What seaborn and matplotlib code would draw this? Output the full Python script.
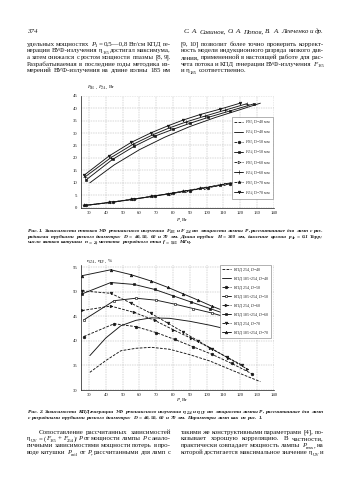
import re
import matplotlib
matplotlib.use("Agg")
import matplotlib.pyplot as plt
import seaborn as sns

# ---------------- data: Fig. 1 (fluxes, W) ----------------
P_d70 = [27, 42, 55, 67, 77, 86, 96, 108, 120]
F254_d70 = [13.0, 20.8, 26.2, 30.1, 32.9, 35.2, 37.4, 39.6, 42.0]
F185_d70 = [0.9, 2.1, 3.3, 4.5, 5.6, 6.6, 7.8, 9.2, 10.7]

P_d60 = [27.5, 43, 56, 68, 78, 88, 99, 111, 124]
F254_d60 = [12.3, 20.1, 25.4, 29.3, 32.1, 34.5, 36.8, 39.2, 41.8]
F185_d60 = [0.9, 2.2, 3.4, 4.6, 5.7, 6.8, 8.0, 9.4, 11.0]

P_d50 = [28.5, 44, 57, 69, 80, 90, 101, 114, 128]
F254_d50 = [11.3, 19.4, 24.7, 28.7, 31.5, 33.9, 36.3, 38.9, 41.7]
F185_d50 = [1.0, 2.2, 3.4, 4.7, 5.8, 6.9, 8.1, 9.7, 11.5]

P_d40 = [30.5, 45, 60, 75, 90, 105, 120, 132]
F254_d40 = [10.0, 17.2, 23.3, 28.3, 32.6, 36.2, 39.4, 42.0]
F185_d40 = [1.1, 2.3, 3.8, 5.3, 6.9, 8.6, 10.4, 12.2]

# ---------------- data: Fig. 2 (efficiency, %) ----------------
Pk_d70 = [26, 43, 55, 67, 77, 86, 95, 103, 112, 121]
UV_d70 = [53.3, 54.5, 53.5, 52.2, 50.9, 49.6, 48.3, 47.1, 45.9, 44.5]
K254_d70 = [50.2, 49.7, 47.7, 45.6, 43.6, 41.8, 40.0, 38.4, 36.7, 35.1]

Pk_d60 = [26, 43, 57, 69, 80, 91, 102, 113, 124]
UV_d60 = [49.6, 51.9, 51.5, 50.5, 49.2, 47.9, 46.6, 45.3, 44.0]
K254_d60 = [46.2, 47.1, 45.8, 44.2, 42.3, 40.5, 38.6, 36.5, 34.3]

Pk_d50 = [27, 45, 58, 70, 81, 92, 103, 115, 127]
UV_d50 = [44.3, 48.2, 48.7, 48.3, 47.5, 46.6, 45.7, 44.5, 43.0]
K254_d50 = [40.9, 43.5, 42.9, 41.7, 40.3, 38.8, 37.3, 35.4, 33.3]

Pk_d40 = [30.5, 40, 49, 58, 67, 78, 90, 102, 116, 132]
UV_d40 = [37.0, 40.6, 43.1, 44.2, 44.7, 44.6, 44.0, 43.2, 42.1, 41.0]
K254_d40 = [33.6, 36.0, 38.0, 38.5, 38.7, 38.3, 37.2, 35.9, 33.9, 31.7]

x_ticks = [30, 40, 50, 60, 70, 80, 90, 100, 110, 120, 130, 140]
y1_ticks = [0, 5, 10, 15, 20, 25, 30, 35, 40, 45]
y2_ticks = [30, 35, 40, 45, 50, 55]

leg1 = ["$F_{185}$, D=40 мм", "$F_{254}$, D=40 мм", "$F_{185}$, D=50 мм", "$F_{254}$, D=50 мм",
        "$F_{185}$, D=60 мм", "$F_{254}$, D=60 мм", "$F_{185}$, D=70 мм", "$F_{254}$, D=70 мм"]
leg2 = ["КПД 254, $D$=40", "КПД 185+254, $D$=40", "КПД 254, $D$=50", "КПД 185+254, $D$=50",
        "КПД 254, $D$=60", "КПД 185+254, $D$=60", "КПД 254, $D$=70", "КПД 185+254, $D$=70"]

# ---------------- style ----------------
sns.set_theme(style="white")
plt.rcParams["font.family"] = ["Liberation Serif", "DejaVu Serif"]
plt.rcParams["mathtext.fontset"] = "custom"
plt.rcParams["mathtext.rm"] = "Liberation Serif"
plt.rcParams["mathtext.it"] = "Liberation Serif:italic"
plt.rcParams["mathtext.bf"] = "Liberation Serif:bold:italic"

W, H = 350, 495
fig = plt.figure(figsize=(3.5, 4.95), dpi=100)
fig.patch.set_facecolor("white")


def fx(x):
    return x / W


def fy(y):
    return 1 - y / H


INK = "#161616"


def style_axes(ax, ylim, yticks):
    ax.set_xlim(25, 140)
    ax.set_ylim(*ylim)
    ax.set_xticks(x_ticks)
    ax.set_yticks(yticks)
    ax.tick_params(labelsize=3.4, length=1.5, width=0.4, pad=1.0, colors=INK)
    for s in ["top", "right"]:
        ax.spines[s].set_visible(False)
    for s in ["left", "bottom"]:
        ax.spines[s].set_linewidth(0.5)
        ax.spines[s].set_color(INK)
    ax.grid(True, color="#b0b0b0", lw=0.35, ls=(0, (3, 2)))
    ax.set_axisbelow(True)
    ax.set_xlabel("")
    ax.set_ylabel("")
    ax.set_facecolor("white")


def draw(ax, x, y, ls, marker, label, mfc=INK, ms=1.9):
    sns.lineplot(x=x, y=y, ax=ax, color=INK, lw=0.65, linestyle=ls, marker=marker,
                 markersize=ms, mfc=mfc, mec=INK, mew=0.45, label=label,
                 sort=False, estimator=None)


# ---------------- Fig. 1 ----------------
ax1 = fig.add_axes([fx(80.6), fy(207.7), 193.2 / W, 112 / H])
dsh = (0, (3, 1.5))
draw(ax1, P_d40, F185_d40, dsh, None, leg1[0])
draw(ax1, P_d40, F254_d40, "-", None, leg1[1])
draw(ax1, P_d50, F185_d50, dsh, "o", leg1[2])
draw(ax1, P_d50, F254_d50, "-", "s", leg1[3])
draw(ax1, P_d60, F185_d60, dsh, ">", leg1[4], mfc="white")
draw(ax1, P_d60, F254_d60, "-", "+", leg1[5], ms=2.5)
draw(ax1, P_d70, F185_d70, dsh, "*", leg1[6], ms=2.5)
draw(ax1, P_d70, F254_d70, "-", "v", leg1[7])
style_axes(ax1, (0, 45), y1_ticks)
l1 = ax1.legend(loc="upper right", bbox_to_anchor=(0.997, 0.81), fontsize=2.9,
                frameon=True, fancybox=False, edgecolor="#777777", framealpha=1,
                labelspacing=0.72, handlelength=2.2, handletextpad=0.5,
                borderpad=0.5, borderaxespad=0)
l1.get_frame().set_linewidth(0.4)

# ---------------- Fig. 2 ----------------
ax2 = fig.add_axes([fx(80.6), fy(390), 193.2 / W, 125.15 / H])
draw(ax2, Pk_d40, K254_d40, dsh, None, leg2[0])
draw(ax2, Pk_d40, UV_d40, "-", None, leg2[1])
draw(ax2, Pk_d50, K254_d50, dsh, "o", leg2[2])
draw(ax2, Pk_d50, UV_d50, "-", "s", leg2[3], mfc="white")
draw(ax2, Pk_d60, K254_d60, dsh, ">", leg2[4])
draw(ax2, Pk_d60, UV_d60, "-", "s", leg2[5])
draw(ax2, Pk_d70, K254_d70, dsh, "v", leg2[6])
draw(ax2, Pk_d70, UV_d70, "-", "^", leg2[7])
style_axes(ax2, (30, 55.5), y2_ticks)
l2 = ax2.legend(loc="upper right", bbox_to_anchor=(0.985, 1.0), fontsize=2.9,
                frameon=True, fancybox=False, edgecolor="#777777", framealpha=1,
                labelspacing=0.45, handlelength=2.2, handletextpad=0.5,
                borderpad=0.4, borderaxespad=0)
l2.get_frame().set_linewidth(0.4)

# ---------------- page text (manual sub-scripts, justified lines) ----------------
renderer = fig.canvas.get_renderer()
PX = 100 / 72
TOKEN = re.compile(r"\*([^*]+)\*|_\{([^}]+)\}|([^*_]+)")


def segments(word, style):
    out = []
    for m in TOKEN.finditer(word):
        if m.group(1):
            out.append((m.group(1), "italic", False))
        elif m.group(2):
            out.append((m.group(2), style, True))
        else:
            out.append((m.group(3), style, False))
    return out


def make_word(word, base, size, style, weight):
    parts = []
    total = 0.0
    for txt, st, sub in segments(word, style):
        fs = size * 0.68 if sub else size
        yb = base + (0.24 * size * PX if sub else 0)
        t = fig.text(0, fy(yb), txt, fontsize=fs, style=st, weight=weight,
                     va="baseline", ha="left", color=INK)
        w = t.get_window_extent(renderer).width
        parts.append((t, total))
        total += w
    return parts, total


def put_line(line, x0, x1, y, size, style="normal", weight="normal", justify=True,
             indent=0.0, align="left"):
    words = line.split(" ")
    start = x0 + indent
    base = y + 0.3 * size * PX
    while True:
        built = [make_word(w, base, size, style, weight) for w in words]
        widths = [b[1] for b in built]
        space = 0.25 * size * PX
        if justify and len(words) > 1:
            gap = (x1 - start - sum(widths)) / (len(words) - 1)
        else:
            gap = space
        if gap >= 0.6 * space or size < 2.5:
            break
        for parts, _ in built:
            for t, _o in parts:
                t.remove()
        size -= 0.1
    if align == "right":
        start = x1 - (sum(widths) + gap * (len(words) - 1))
    elif align == "center":
        start = (x0 + x1) / 2 - (sum(widths) + gap * (len(words) - 1)) / 2
    x = start
    for (parts, w) in built:
        for t, off in parts:
            t.set_x(fx(x + off))
        x += w + gap


# axis titles
put_line("*F*_{185}, *F*_{254}, Вт", 87, 200, 86, 3.7, justify=False)
put_line("*P*, Вт", 160, 204, 219, 3.7, justify=False, align="center")
put_line("η_{254}, η_{UV}, %", 87, 200, 260, 3.7, justify=False)
put_line("*P*, Вт", 160, 204, 399.5, 3.7, justify=False, align="center")

BODY = 5.0
CAP = 3.9
put_line("374", 27, 60, 31, BODY, style="italic", justify=False)
put_line("С. А. Савинов, О. А. Попов, В. А. Левченко и др.", 150, 324, 31, BODY,
         style="italic", justify=False, align="right")

top_left = [
    "удельных мощностях *P*_{1} = 0,5—0,8 Вт/см КПД ге-",
    "нерации ВУФ-излучения η_{185} достигал максимума,",
    "а затем снижался с ростом мощности плазмы [8, 9].",
    "Разрабатываемая в последние годы методика из-",
    "мерений ВУФ-излучения на длине волны 185 нм",
]
top_right = [
    "[9, 10] позволит более точно проверить коррект-",
    "ность модели индукционного разряда низкого дав-",
    "ления, примененной в настоящей работе для рас-",
    "чета потока и КПД генерации ВУФ-излучения *F*_{185}",
    "и η_{185} соответственно.",
]
top_y = [43.5, 50.2, 56.9, 63.6, 70.3]
for i, (a, b) in enumerate(zip(top_left, top_right)):
    put_line(a, 27, 171, top_y[i], BODY)
    put_line(b, 180.5, 324, top_y[i], BODY, justify=(i < 4))

cap1 = [
    "Рис. 1. Зависимости потоков УФ резонансного излучения *F*_{185} и *F*_{254} от мощности лампы *P*, рассчитанные для ламп с раз-",
    "рядными трубками разного диаметра: *D* = 40, 50, 60 и 70 мм. Длина трубки *H* = 300 мм, давление аргона *p*_{Ar} = 0,1 Торр;",
    "число витков катушки *n* = 2; частота разрядного тока *f* = 9,5 МГц.",
]
cap1_y = [230.2, 236.0, 241.8]
for i, s in enumerate(cap1):
    put_line(s, 27.5, 323, cap1_y[i], CAP, style="italic", weight="bold", justify=(i < 2))

cap2 = [
    "Рис. 2. Зависимости КПД генерации УФ резонансного излучения η_{254} и η_{UV} от мощности лампы *P*, рассчитанные для ламп",
    "с разрядными трубками разного диаметра: *D* = 40, 50, 60 и 70 мм. Параметры ламп как на рис. 1.",
]
cap2_y = [411.3, 417.2]
for i, s in enumerate(cap2):
    put_line(s, 27.5, 323, cap2_y[i], CAP, style="italic", weight="bold", justify=(i < 1))

bot_left = [
    "Сопоставление рассчитанных зависимостей",
    "η_{UV} = (*F*_{185} + *F*_{254})/*P* от мощности лампы *P* с анало-",
    "гичными зависимостями мощности потерь в про-",
    "воде катушки *P*_{coil} от *P*, рассчитанными для ламп с",
]
bot_right = [
    "такими же конструктивными параметрами [4], по-",
    "казывает хорошую корреляцию. В частности,",
    "практически совпадает мощность лампы *P*_{max}, на",
    "которой достигается максимальное значение η_{UV} и",
]
bot_y = [431.7, 438.4, 445.1, 451.8]
for i, (a, b) in enumerate(zip(bot_left, bot_right)):
    put_line(a, 27, 171, bot_y[i], BODY, indent=(12 if i == 0 else 0))
    put_line(b, 180.5, 324, bot_y[i], BODY)

fig.savefig("out.png", dpi=100, facecolor="white")
